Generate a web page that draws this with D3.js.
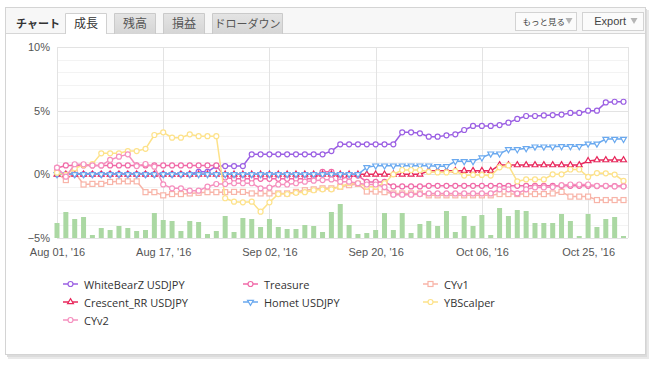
<!DOCTYPE html>
<html>
<head>
<meta charset="utf-8">
<script src="https://cdn.jsdelivr.net/npm/d3@7"></script>
<style>
body { margin: 0; background: #fff; }
svg { display: block; font-family: "Liberation Sans", Arial, sans-serif; }
.jp { font-family: "Noto Sans CJK JP", "Liberation Sans", sans-serif; }
</style>
</head>
<body>
<svg id="chart"></svg>
<script>
// trading days shown on the category axis (Japan holiday Oct 10 missing)
var augDays = [1, 2, 3, 4, 5, 8, 9, 10, 11, 12, 15, 16, 17, 18, 19, 22, 23, 24, 25, 26, 29, 30, 31];
var sepDays = [1, 2, 5, 6, 7, 8, 9, 12, 13, 14, 15, 16, 19, 20, 21, 22, 23, 26, 27, 28, 29, 30];
var octDays = [3, 4, 5, 6, 7, 11, 12, 13, 14, 17, 18, 19, 20, 21, 24, 25, 26, 27, 28, 31];

var tickDates = ["2016-08-01", "2016-08-17", "2016-09-02", "2016-09-20", "2016-10-06", "2016-10-25"];
var tickLabels = ["Aug 01, '16", "Aug 17, '16", "Sep 02, '16", "Sep 20, '16", "Oct 06, '16", "Oct 25, '16"];
var yTicks = [-5, 0, 5, 10];

// growth in %
var whiteBearZ = [0, 0, 0, 0, 0, 0, 0, 0, 0, 0,
    0, 0, 0, 0, 0, 0, 0.2, 0.2, 0.65, 0.65,
    0.65, 0.65, 1.57, 1.57, 1.57, 1.57, 1.57, 1.57, 1.57, 1.57,
    1.57, 1.83, 2.36, 2.36, 2.36, 2.36, 2.36, 2.36, 2.36, 3.3,
    3.3, 3.22, 2.96, 2.96, 3.06, 3.14, 3.48, 3.8, 3.8, 3.8,
    3.87, 4.06, 4.35, 4.58, 4.58, 4.63, 4.65, 4.69, 4.82, 4.82,
    5.0, 5.0, 5.65, 5.7, 5.7];
var treasure = [0.5, 0.7, 0.7, 0.7, 0.7, 0.7, 0.7, 0.7, 0.7, 0.7,
    0.7, 0.7, 0.7, 0.7, 0.7, 0.7, 0.7, 0.7, 0.7, -0.25,
    -0.35, -0.35, -0.35, -0.35, -0.35, -0.35, -0.35, -0.35, -0.35, -0.35,
    0.2, 0.2, -0.35, -0.2, -0.1, -0.6, -0.6, -0.6, -0.95, -0.95,
    -0.95, -0.95, -0.9, -0.9, -0.9, -0.9, -0.9, -0.9, -0.9, -0.9,
    -0.9, -0.9, -0.9, -0.9, -0.9, -0.9, -0.9, -0.9, -0.9, -0.9,
    -0.9, -0.92, -0.92, -0.92, -0.92];
var cyv1 = [0.1, -0.45, 0.15, -0.8, -0.75, -0.75, -0.6, -0.55, -0.55, -0.55,
    -1.4, -1.4, -1.65, -1.55, -1.55, -1.5, -1.45, -1.4, -1.4, -1.4,
    -1.38, -1.38, -1.5, -1.5, -1.5, -1.5, -1.5, -1.38, -1.25, -1.18,
    -1.1, -1.1, -0.97, -0.85, -0.75, -1.35, -1.35, -1.4, -1.5, -1.5,
    -1.5, -1.5, -1.65, -1.65, -1.65, -1.65, -1.65, -1.65, -1.65, -1.65,
    -1.55, -1.55, -1.55, -1.55, -1.55, -1.55, -1.5, -1.38, -1.75, -1.75,
    -1.75, -2.02, -2.02, -2.02, -2.02];
var crescentRR = [0, 0, 0, 0, 0, 0, 0, 0, 0, 0,
    0, 0, 0, 0, 0, 0, 0, 0, 0, 0,
    0, 0, 0, 0, 0, 0, 0, 0, 0, 0,
    0, 0, 0, 0, 0, 0, 0, 0, 0, 0,
    0, 0, 0.28, 0.28, 0.28, 0.28, 0.28, 0.28, 0.28, 0.28,
    0.73, 0.73, 0.73, 0.73, 0.73, 0.73, 0.73, 0.73, 0.73, 0.73,
    1.05, 1.12, 1.12, 1.12, 1.12];
var homet = [0, 0, 0, 0, 0, 0, 0, 0, 0, 0,
    0, 0, 0, 0, 0, 0, 0, 0, 0, 0,
    0, 0, 0, 0, 0, 0, 0, 0, 0, 0,
    0, 0, 0, 0, 0, 0.55, 0.68, 0.68, 0.68, 0.68,
    0.68, 0.68, 0.68, 0.63, 0.63, 1.02, 1.02, 1.02, 1.31, 1.62,
    1.62, 1.96, 1.96, 2.04, 2.17, 2.17, 2.17, 2.2, 2.2, 2.2,
    2.4, 2.4, 2.77, 2.77, 2.77];
var ybScalper = [0.13, -0.05, 0.47, 0.73, 0.8, 1.65, 1.65, 1.65, 1.83, 1.83,
    2.0, 3.09, 3.3, 2.88, 2.88, 3.14, 3.0, 3.0, 3.0, -1.88,
    -2.15, -2.2, -2.15, -2.93, -2.2, -1.55, -1.55, -1.45, -1.4, -1.25,
    -1.18, -1.18, -0.97, -0.7, -0.7, -0.97, -0.97, -0.7, 0.0, 0.34,
    0.34, 0.34, 0.2, 0.15, 0.15, 0.25, -0.1, -0.05, -0.05, -0.1,
    0.55, 0.7, -0.55, -0.4, -0.4, -0.4, 0.0, 0.0, 0.38, 0.38,
    -0.2, 0.1, 0.08, -0.02, -0.52];
var cyv2 = [0.52, -0.18, 0.79, 0.79, 0.7, 0.7, 1.13, 1.39, 1.57, 0.65,
    0.81, 0.6, -0.79, -1.1, -1.1, -1.28, -1.28, -0.97, -0.76, -0.76,
    -0.7, -0.7, -0.7, -1.1, -1.05, -0.8, -0.8, -0.7, -0.58, -0.5,
    -0.45, -0.4, -0.58, -0.58, -0.7, -0.8, -0.8, -1.0, -1.6, -1.6,
    -1.6, -1.55, -1.5, -1.5, -1.5, -1.5, -1.5, -1.5, -1.5, -1.5,
    -1.18, -1.18, -1.5, -1.18, -1.03, -1.03, -1.0, -0.85, -0.8, -0.8,
    -0.8, -0.9, -0.9, -0.95, -0.95];

// green columns along the bottom
var tradeBars = [15, 26, 19, 21, 3, 10, 8, 12, 10, 7,
    8, 25, 18, 17, 7, 17, 16, 4, 7, 22,
    6, 20, 19, 11, 19, 11, 9, 9, 13, 12,
    6, 26, 34, 13, 4, 5, 8, 25, 8, 25,
    5, 14, 17, 12, 27, 6, 22, 12, 23, 3,
    30, 22, 28, 27, 15, 15, 15, 24, 17, 2,
    24, 11, 19, 21, 2];

function pad(n) { return n < 10 ? "0" + n : "" + n; }
var categories = augDays.map(function (d) { return "2016-08-" + pad(d); })
    .concat(sepDays.map(function (d) { return "2016-09-" + pad(d); }))
    .concat(octDays.map(function (d) { return "2016-10-" + pad(d); }));

var series = [
    { name: "WhiteBearZ USDJPY", values: whiteBearZ, color: "#9b5fe3", marker: "circle" },
    { name: "Treasure", values: treasure, color: "#f06aa8", marker: "circle" },
    { name: "CYv1", values: cyv1, color: "#f8b4a8", marker: "square" },
    { name: "Crescent_RR USDJPY", values: crescentRR, color: "#e8285c", marker: "triangle" },
    { name: "Homet USDJPY", values: homet, color: "#6aa9ef", marker: "triangle-down" },
    { name: "YBScalper", values: ybScalper, color: "#fde28a", marker: "circle" },
    { name: "CYv2", values: cyv2, color: "#f590bf", marker: "circle" }
];

var svgWidth = 658, svgHeight = 366;
var plot = { left: 57, right: 628, top: 47, bottom: 238 };

var svg = d3.select("#chart")
    .attr("width", svgWidth)
    .attr("height", svgHeight);

// panel + shadow
svg.append("rect").attr("x", 8).attr("y", 10).attr("width", 641).attr("height", 349)
    .attr("fill", "#e9e9e9");
svg.append("rect").attr("x", 7).attr("y", 9).attr("width", 640).attr("height", 348)
    .attr("fill", "#dcdcdc");
svg.append("rect").attr("x", 5.5).attr("y", 7.5).attr("width", 640).attr("height", 347)
    .attr("fill", "#fff").attr("stroke", "#d4d4d4");

// header strip
svg.append("rect").attr("x", 6).attr("y", 8).attr("width", 639).attr("height", 26)
    .attr("fill", "#f7f7f7");
svg.append("line").attr("x1", 6).attr("x2", 645).attr("y1", 33.5).attr("y2", 33.5)
    .attr("stroke", "#d6d6d6");

svg.append("text").attr("class", "jp").attr("x", 16).attr("y", 28)
    .attr("font-size", 11).attr("font-weight", "bold").attr("fill", "#333")
    .text("チャート");

var tabs = [
    { label: "成長", x0: 65, x1: 107, active: true },
    { label: "残高", x0: 114, x1: 156 },
    { label: "損益", x0: 163, x1: 205 },
    { label: "ドローダウン", x0: 212, x1: 283 }
];
var grad = svg.append("defs").append("linearGradient").attr("id", "tabGrad")
    .attr("x1", 0).attr("x2", 0).attr("y1", 0).attr("y2", 1);
grad.append("stop").attr("offset", "0%").attr("stop-color", "#e4e4e4");
grad.append("stop").attr("offset", "100%").attr("stop-color", "#d5d5d5");

tabs.forEach(function (t) {
    svg.append("path")
        .attr("d", "M" + (t.x0 + 0.5) + ",34 V13.5 H" + (t.x1 - 0.5) + " V34")
        .attr("fill", t.active ? "#fff" : "url(#tabGrad)")
        .attr("stroke", t.active ? "#d0d0d0" : "#cacaca");
    svg.append("text").attr("class", "jp")
        .attr("x", (t.x0 + t.x1) / 2).attr("y", 28)
        .attr("text-anchor", "middle").attr("font-size", t.label.length > 2 ? 11 : 12)
        .attr("fill", t.active ? "#333" : "#555")
        .text(t.label);
});

// buttons on the right
var buttons = [
    { label: "もっと見る", x0: 515, x1: 576, textEnd: 565, size: 8.5, jp: true },
    { label: "Export", x0: 582, x1: 643, textEnd: 626, size: 11, jp: false }
];
buttons.forEach(function (b) {
    svg.append("rect").attr("x", b.x0 + 0.5).attr("y", 12.5)
        .attr("width", b.x1 - b.x0).attr("height", 18)
        .attr("fill", "#fbfbfb").attr("stroke", "#d3d3d3");
    svg.append("text").attr("class", b.jp ? "jp" : null)
        .attr("x", b.textEnd).attr("y", 25)
        .attr("text-anchor", "end").attr("font-size", b.size).attr("fill", "#444")
        .text(b.label);
    var ax = b.jp ? b.textEnd + 0.5 : b.textEnd + 4.5;
    svg.append("path")
        .attr("d", "M" + ax + ",18 h7 l-3.5,6 z")
        .attr("fill", "#b5b5b5");
});

// scales
var x = d3.scalePoint().domain(categories).range([57, 623.5]);
var y = d3.scaleLinear().domain([-5, 10]).range([plot.bottom, plot.top]);
var yBar = d3.scaleLinear().domain([0, 40]).range([plot.bottom, plot.bottom - 40]);

var chartGroup = svg.append("g");

// minor horizontal grid every 1%
chartGroup.append("g").selectAll("line")
    .data(d3.range(-4, 10, 1).filter(function (v) { return v % 5 !== 0; }))
    .enter().append("line")
    .attr("x1", plot.left).attr("x2", plot.right)
    .attr("y1", function (d) { return Math.round(y(d)) + 0.5; })
    .attr("y2", function (d) { return Math.round(y(d)) + 0.5; })
    .attr("stroke", "#f3f3f3");

// major grid
chartGroup.append("g").selectAll("line")
    .data(yTicks)
    .enter().append("line")
    .attr("x1", plot.left).attr("x2", plot.right)
    .attr("y1", function (d) { return Math.round(y(d)) + 0.5; })
    .attr("y2", function (d) { return Math.round(y(d)) + 0.5; })
    .attr("stroke", "#e3e3e3");

// vertical grid at x ticks + right edge
chartGroup.append("g").selectAll("line")
    .data(tickDates)
    .enter().append("line")
    .attr("x1", function (d) { return Math.round(x(d)) + 0.5; })
    .attr("x2", function (d) { return Math.round(x(d)) + 0.5; })
    .attr("y1", plot.top).attr("y2", plot.bottom)
    .attr("stroke", "#e3e3e3");
chartGroup.append("line")
    .attr("x1", plot.right + 0.5).attr("x2", plot.right + 0.5)
    .attr("y1", plot.top).attr("y2", plot.bottom)
    .attr("stroke", "#e3e3e3");

// axes
var leftAxis = d3.axisLeft(y).tickValues(yTicks).tickSize(0).tickPadding(7)
    .tickFormat(function (d) { return (d < 0 ? "\u2212" : "") + Math.abs(d) + "%"; });
var yAxisG = chartGroup.append("g")
    .attr("transform", "translate(" + plot.left + ",0)")
    .call(leftAxis);
yAxisG.select(".domain").remove();
yAxisG.selectAll("text").attr("font-size", 11).attr("fill", "#555")
    .attr("font-family", "\"Liberation Sans\", Arial, sans-serif");

var bottomAxis = d3.axisBottom(x).tickValues(tickDates).tickSize(0).tickPadding(10)
    .tickFormat(function (d, i) { return tickLabels[i]; });
var xAxisG = chartGroup.append("g")
    .attr("transform", "translate(0," + plot.bottom + ")")
    .call(bottomAxis);
xAxisG.select(".domain").remove();
xAxisG.selectAll("text").attr("font-size", 11).attr("fill", "#555")
    .attr("font-family", "\"Liberation Sans\", Arial, sans-serif");

// bars
chartGroup.append("g").selectAll("rect")
    .data(tradeBars)
    .enter().append("rect")
    .attr("x", function (d, i) { return x(categories[i]) - 2.5; })
    .attr("width", 5)
    .attr("y", function (d) { return yBar(d); })
    .attr("height", function (d) { return plot.bottom - yBar(d); })
    .attr("fill", "#abd8a3");

// marker helper
function drawMarker(g, type, cx, cy, color) {
    if (type === "circle") {
        g.append("circle").attr("cx", cx).attr("cy", cy).attr("r", 2.5)
            .attr("fill", "#fff").attr("stroke", color).attr("stroke-width", 1.2);
    } else if (type === "square") {
        g.append("rect").attr("x", cx - 2.5).attr("y", cy - 2.5)
            .attr("width", 5).attr("height", 5)
            .attr("fill", "#fff").attr("stroke", color).attr("stroke-width", 1.2);
    } else {
        var rot = type === "triangle-down" ? 180 : 0;
        g.append("path")
            .attr("d", d3.symbol().type(d3.symbolTriangle).size(15)())
            .attr("transform", "translate(" + cx + "," + cy + ") rotate(" + rot + ")")
            .attr("fill", "#fff").attr("stroke", color).attr("stroke-width", 1.2);
    }
}

// lines
var line = d3.line()
    .x(function (d, i) { return x(categories[i]); })
    .y(function (d) { return y(d); });

series.forEach(function (s) {
    var g = chartGroup.append("g");
    g.append("path")
        .attr("d", line(s.values))
        .attr("fill", "none")
        .attr("stroke", s.color)
        .attr("stroke-width", 1.5);
    s.values.forEach(function (v, i) {
        drawMarker(g, s.marker, x(categories[i]), y(v), s.color);
    });
});

// legend
var legendCols = [63, 243, 423];
var legendRows = [284, 302, 320];
series.forEach(function (s, k) {
    var lx = legendCols[k % 3], ly = legendRows[Math.floor(k / 3)];
    var g = svg.append("g");
    g.append("line").attr("x1", lx).attr("x2", lx + 15)
        .attr("y1", ly).attr("y2", ly)
        .attr("stroke", s.color).attr("stroke-width", 1.5);
    drawMarker(g, s.marker, lx + 7.5, ly, s.color);
    g.append("text").attr("x", lx + 21).attr("y", ly + 4.5)
        .attr("font-size", 11).attr("fill", "#333")
        .attr("font-family", "\"Open Sans\", \"Liberation Sans\", sans-serif")
        .text(s.name);
});
</script>
</body>
</html>
